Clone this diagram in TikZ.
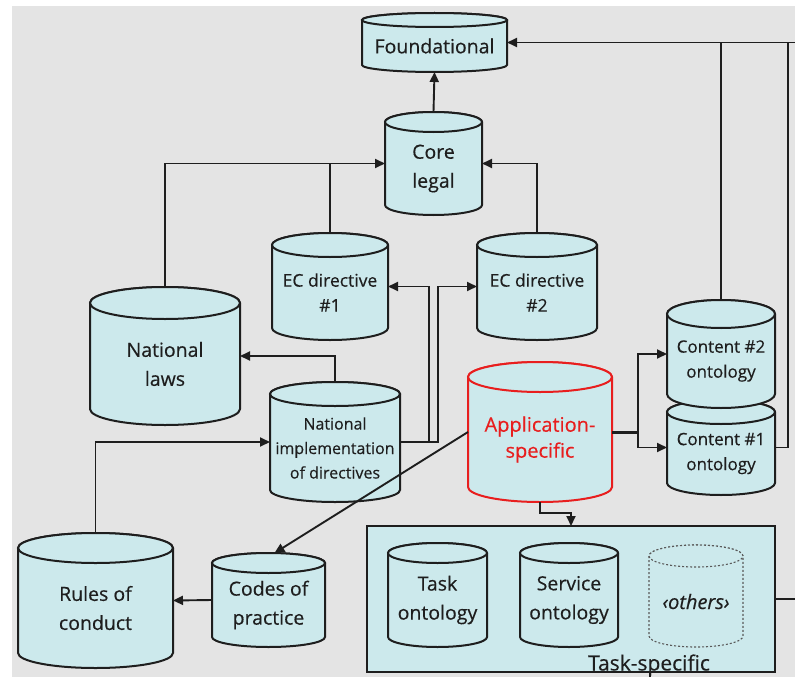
\documentclass[tikz,border=0pt]{standalone}
\usepackage{fontspec}
\setmainfont{Open Sans}[FakeBold=0.4]
\usetikzlibrary{arrows.meta}

\definecolor{cylfill}{RGB}{204,233,236}
\definecolor{bggray}{RGB}{228,228,228}
\definecolor{inkline}{RGB}{30,30,30}
\definecolor{appred}{RGB}{232,30,30}

\tikzset{
  cylbody/.style={fill=cylfill, draw=inkline, line width=2pt},
  dotcyl/.style={draw=gray!70!black, dotted, line width=1.1pt},
  redcyl/.style={draw=appred},
  conn/.style={draw=inkline, line width=1.9pt},
  arr/.style={conn, -{Triangle[length=10pt,width=9pt]}},
  bigtext/.style={font=\fontsize{19.5}{29}\selectfont, align=center, text=inkline},
  ectext/.style={font=\fontsize{17.5}{25}\selectfont, align=center, text=inkline},
  impltext/.style={font=\fontsize{16}{24.5}\selectfont, align=center, text=inkline},
  contenttext/.style={font=\fontsize{17}{25}\selectfont, align=center, text=inkline},
  redtext/.style={font=\fontsize{20}{26}\selectfont, align=center, text=appred},
  othertext/.style={font=\fontsize{20}{25}\selectfont\itshape, align=center, text=inkline},
  grouptext/.style={font=\fontsize{21}{25}\selectfont, align=center, text=inkline},
  anchorbox/.style={rectangle, inner sep=0pt, outer sep=0pt},
  taskframe/.style={anchorbox, fill=cylfill, draw=inkline, line width=2pt},
}

% Database cylinder: name, left, top, right, bottom, cap radius,
% cylinder style, label style, label (vertical coordinates measured downwards)
\newcommand\dbcyl[9]{%
  \pgfmathsetmacro\cylcx{(#2+#4)/2}%
  \pgfmathsetmacro\cylrx{(#4-#2)/2}%
  \pgfmathsetmacro\cyltop{-(#3)-(#6)}%
  \pgfmathsetmacro\cylbot{-(#5)+(#6)}%
  \pgfmathsetmacro\cylw{#4-#2}%
  \pgfmathsetmacro\cylh{#5-#3}%
  \pgfmathsetmacro\cylcy{-(#3+#5)/2}%
  \pgfmathsetmacro\cylty{-(#3+#6+#5)/2}%
  \path[cylbody,#7] (#2,\cyltop) -- (#2,\cylbot)
    arc[start angle=180,end angle=360,x radius=\cylrx,y radius=#6]
    -- (#4,\cyltop)
    arc[start angle=0,end angle=180,x radius=\cylrx,y radius=#6] -- cycle;
  \path[cylbody,#7] (\cylcx,\cyltop) ellipse[x radius=\cylrx,y radius=#6];
  \node[anchorbox,minimum width=\cylw pt,minimum height=\cylh pt] (#1) at (\cylcx,\cylcy) {};
  \node[#8] (#1-label) at (\cylcx,\cylty) {#9};
}

\begin{document}
\begin{tikzpicture}[x=1pt,y=1pt]
  \useasboundingbox (0,0) rectangle (795,-677);
  \fill[bggray] (12,-6) rectangle (795,-677);

  % legal ontologies
  \dbcyl{found}{362}{13}{507}{72}{7}{}{bigtext}{Foundational}
  \dbcyl{core}{385}{112}{482}{215}{10}{}{bigtext}{Core\\legal}
  \dbcyl{ec1}{272}{233}{388}{340}{12}{}{ectext}{EC directive\\\#1}
  \dbcyl{ec2}{477}{233}{597}{340}{12}{}{ectext}{EC directive\\\#2}
  \dbcyl{natlaws}{90}{287}{240}{425}{16}{}{bigtext}{National\\laws}
  \dbcyl{natimpl}{270}{382}{400}{502}{12}{}{impltext}{National\\implementation\\of directives}
  \dbcyl{rules}{18}{533}{173}{668}{15}{}{bigtext}{Rules of\\conduct}
  \dbcyl{codes}{212}{553}{325}{647}{10}{}{bigtext}{Codes of\\practice}

  % application and content ontologies
  \dbcyl{app}{468}{362}{612}{502}{15}{redcyl}{redtext}{Application-\\specific}
  \dbcyl{content1}{667}{400}{775}{495}{12}{}{contenttext}{Content \#1\\ontology}
  \dbcyl{content2}{667}{300}{775}{408}{14}{}{contenttext}{Content \#2\\ontology}

  % task-specific group
  \node[taskframe, minimum width=408pt, minimum height=146pt] (taskbox) at (571,-599) {};
  \dbcyl{task}{388}{543}{487}{647}{10}{}{bigtext}{Task\\ontology}
  \dbcyl{service}{520}{543}{618}{647}{10}{}{bigtext}{Service\\ontology}
  \dbcyl{others}{649}{545}{743}{647}{11}{dotcyl}{othertext}{‹others›}
  \node[grouptext] (tasklabel) at (649,-665) {Task-specific};
  \draw[conn, line width=2pt] (taskbox.south west) -- (taskbox.south east);

  % connectors
  \coordinate (topexit) at (795,-42.5);
  \coordinate (boxexit) at (795,-599);
  \coordinate (bottomexit) at (650,-677);

  \draw[arr] (core.north) -- (found.south);
  \draw[arr] (natlaws.north) |- (core.west);
  \draw[conn] (ec1.north) -- (ec1.north |- core.west);
  \draw[arr] (ec2.north) |- (core.east);
  \draw[arr] (natimpl.east) -- ++(29,0) |- (ec1.east);
  \draw[arr] (natimpl.east) -- ++(38,0) |- (ec2.west);
  \draw[arr] (natimpl.north) |- (natlaws.east);
  \draw[arr] (rules.north) |- (natimpl.west);
  \draw[arr] (app.west) -- ([xshift=6pt]codes.north);
  \draw[arr] (codes.west) -- (rules.east);

  \draw[conn, line width=3pt] (app.east) -- ++(26,0) coordinate (fork);
  \draw[arr] (fork) |- (content2.west);
  \draw[arr] (fork) |- (content1.west);
  \draw[arr] (app.south) -- ++(0,-11) -| (taskbox.north);

  \draw[arr] (found.east -| topexit) -- (found.east);
  \draw[conn] (content2.north) -- (content2.north |- found.east);
  \draw[conn] (content1.east) -- ++(13,0) coordinate (c1turn);
  \draw[conn] (c1turn) -- (c1turn |- found.east);
  \draw[conn] (taskbox.east) -- (boxexit);
  \draw[conn] (bottomexit |- taskbox.south) -- (bottomexit);
\end{tikzpicture}
\end{document}
